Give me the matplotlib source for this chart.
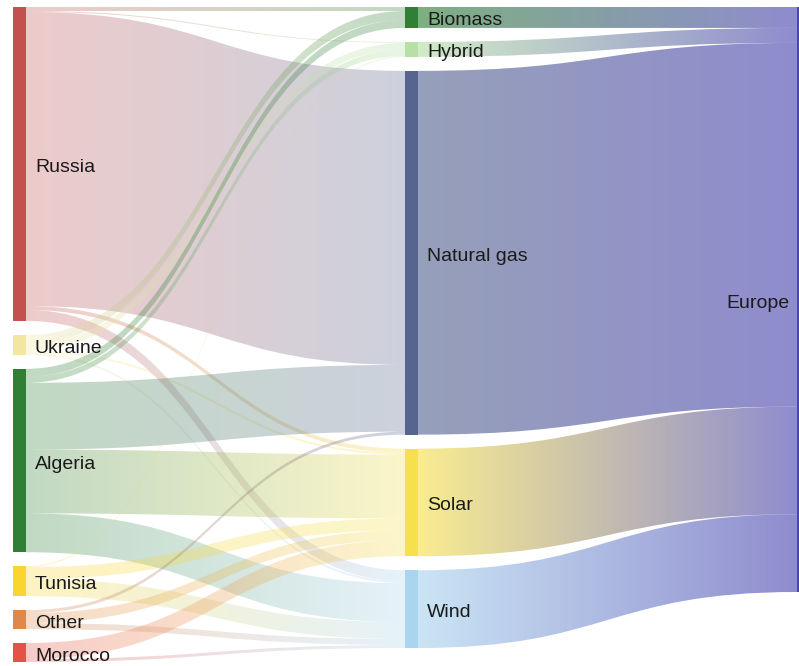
import matplotlib
matplotlib.use("Agg")
import matplotlib.pyplot as plt
import numpy as np
from matplotlib.path import Path
from matplotlib.patches import PathPatch, Rectangle
from matplotlib.colors import to_rgb

plt.rcParams['font.family'] = ['Liberation Sans', 'DejaVu Sans']

# ---------------- data ----------------
sources = ["Russia", "Ukraine", "Algeria", "Tunisia", "Other", "Morocco"]
techs = ["Biomass", "Hybrid", "Natural gas", "Solar", "Wind"]
destination = "Europe"

# flows from each source country into each technology (same order as techs)
russia = [4, 1, 295, 4, 11]
ukraine = [9, 7, 0, 2, 2]
algeria = [8, 6, 67, 64, 39]
tunisia = [0, 1, 0, 12, 17]
other = [0, 0, 3, 10, 6]
morocco = [0, 0, 0, 16, 3]

source_colors = ["#c4504f", "#f3e6a2", "#2f7f34", "#fbd52f", "#e0874a", "#e5524a"]
tech_colors = ["#2f7f34", "#b6e0a6", "#56658f", "#f6e14c", "#aad5ef"]
dest_color = "#4a46b0"

# ---------------- layout ----------------
W, H = 799, 666
fig = plt.figure(figsize=(W / 100, H / 100), dpi=100)
ax = fig.add_axes([0, 0, 1, 1])
ax.set_xlim(0, W)
ax.set_ylim(H, 0)
ax.axis("off")

matrix = np.array([russia, ukraine, algeria, tunisia, other, morocco], dtype=float)
src_tot = matrix.sum(axis=1)
tech_tot = matrix.sum(axis=0)
dest_tot = tech_tot.sum()

top, bottom, gap = 7, 662, 14
nw = 13
x_src, x_tech, x_dest = 13, 405, 797
k = (bottom - top - gap * (len(sources) - 1)) / src_tot.sum()
label_dy = 3.5


def stack(totals):
    ys = []
    y = top
    for t in totals:
        ys.append(y)
        y += t * k + gap
    return ys


src_y = stack(src_tot)
tech_y = stack(tech_tot)
dest_y = top


def band(ax, x0, y0a, y0b, x1, y1a, y1b, c0, c1, alpha, z):
    xm = (x0 + x1) / 2
    verts = [(x0, y0a), (xm, y0a), (xm, y1a), (x1, y1a),
             (x1, y1b), (xm, y1b), (xm, y0b), (x0, y0b), (x0, y0a)]
    codes = [Path.MOVETO, Path.CURVE4, Path.CURVE4, Path.CURVE4,
             Path.LINETO, Path.CURVE4, Path.CURVE4, Path.CURVE4, Path.CLOSEPOLY]
    patch = PathPatch(Path(verts, codes), facecolor="none", edgecolor="none",
                      transform=ax.transData)
    ax.add_patch(patch)
    n = 256
    t = np.linspace(0, 1, n)[None, :, None]
    a = np.array(to_rgb(c0))[None, None, :]
    b = np.array(to_rgb(c1))[None, None, :]
    rgb = a * (1 - t) + b * t
    img = np.concatenate([rgb, np.full((1, n, 1), alpha)], axis=2)
    ymin = min(y0a, y1a) - 1
    ymax = max(y0b, y1b) + 1
    im = ax.imshow(img, extent=(x0, x1, ymax, ymin), aspect="auto",
                   interpolation="bilinear", zorder=z)
    im.set_clip_path(patch)


# offsets: at source sorted by target order, at target sorted by source order
src_pos = {}
so = list(src_y)
for i in range(len(sources)):
    for j in range(len(techs)):
        v = matrix[i, j]
        if v > 0:
            src_pos[(i, j)] = so[i]
            so[i] += v * k
tgt_pos = {}
to = list(tech_y)
for j in range(len(techs)):
    for i in range(len(sources)):
        v = matrix[i, j]
        if v > 0:
            tgt_pos[(i, j)] = to[j]
            to[j] += v * k

for i in range(len(sources)):
    for j in range(len(techs)):
        v = matrix[i, j]
        if v <= 0:
            continue
        y0 = src_pos[(i, j)]
        y1 = tgt_pos[(i, j)]
        h = v * k
        band(ax, x_src + nw, y0, y0 + h, x_tech, y1, y1 + h,
             source_colors[i], tech_colors[j], 0.3, 1)

# tech -> destination links
dy = dest_y
for j in range(len(techs)):
    h = tech_tot[j] * k
    band(ax, x_tech + nw, tech_y[j], tech_y[j] + h, x_dest, dy, dy + h,
         tech_colors[j], dest_color, 0.62, 2)
    dy += h

# nodes
for i, name in enumerate(sources):
    h = src_tot[i] * k
    ax.add_patch(Rectangle((x_src, src_y[i]), nw, h, facecolor=source_colors[i],
                           edgecolor="none", zorder=5))
    ax.text(x_src + nw + 9, src_y[i] + h / 2 + label_dy, name, fontsize=14,
            color="#1a1a1a", va="center", ha="left", zorder=6)

for j, name in enumerate(techs):
    h = tech_tot[j] * k
    ax.add_patch(Rectangle((x_tech, tech_y[j]), nw, h, facecolor=tech_colors[j],
                           edgecolor="none", zorder=5))
    ax.text(x_tech + nw + 9, tech_y[j] + h / 2 + label_dy, name, fontsize=14,
            color="#1a1a1a", va="center", ha="left", zorder=6)

hd = dest_tot * k
ax.add_patch(Rectangle((x_dest, dest_y), nw, hd, facecolor=dest_color,
                       edgecolor="none", zorder=5))
ax.text(x_dest - 8, dest_y + hd / 2 + label_dy, destination, fontsize=14,
        color="#1a1a1a", va="center", ha="right", zorder=6)

fig.savefig("out.png", dpi=100)
